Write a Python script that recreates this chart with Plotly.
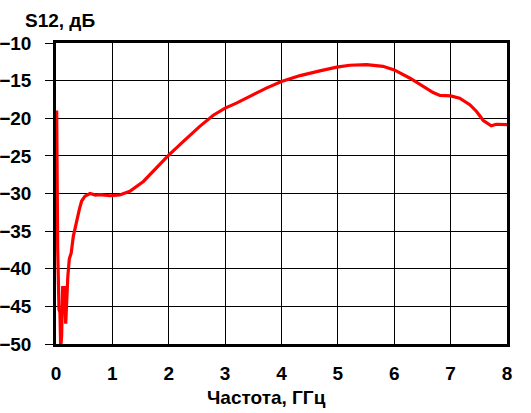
import plotly.graph_objects as go

freq_ghz = [0.012, 0.018, 0.03, 0.053, 0.07, 0.083, 0.10, 0.118, 0.148, 0.172, 0.19, 0.21,
            0.236, 0.27, 0.307, 0.355, 0.414, 0.455, 0.514, 0.603, 0.70, 0.78, 0.957, 1.13,
            1.31, 1.55, 1.785, 1.99, 2.26, 2.55, 2.79, 3.0, 3.2, 3.5, 3.73, 4.0, 4.33, 4.68,
            4.98, 5.21, 5.51, 5.8, 6.0, 6.28, 6.51, 6.69, 6.81, 7.0, 7.16, 7.34, 7.46, 7.58,
            7.72, 7.81, 8.0]
s12_db = [-18.96, -29.5, -37.4, -45.4, -45.8, -50.5, -48.9, -42.5, -42.5, -47.3, -42.6, -41.0,
          -38.7, -37.9, -35.7, -33.9, -32.1, -31.0, -30.35, -30.0, -30.2, -30.15, -30.3, -30.2,
          -29.7, -28.4, -26.6, -24.97, -23.07, -21.08, -19.6, -18.65, -17.99, -16.8, -16.0, -15.12, -14.33, -13.7,
          -13.2, -12.96, -12.87, -13.1, -13.58, -14.68, -15.7, -16.58, -16.97, -17.02, -17.33, -18.2, -19.1, -20.3,
          -21.0, -20.8, -20.86]

x_ticks = [0, 1, 2, 3, 4, 5, 6, 7, 8]
y_ticks = [-50, -45, -40, -35, -30, -25, -20, -15, -10]
y_label = "S12, дБ"
x_label = "Частота, ГГц"

FONT = "Liberation Sans"
fig = go.Figure()
fig.add_trace(go.Scatter(x=freq_ghz, y=s12_db, mode="lines",
                         line=dict(color="#FF0000", width=3.2), showlegend=False))

fig.update_layout(
    width=531, height=413,
    margin=dict(l=56, r=24, t=43, b=68.5, autoexpand=False),
    paper_bgcolor="white", plot_bgcolor="white",
    font=dict(family=FONT, size=19, color="black", weight="bold"),
    xaxis=dict(range=[0, 8], tickvals=x_ticks, showgrid=True, gridcolor="black", gridwidth=1.3,
               showline=True, linecolor="black", linewidth=2.5, mirror=True, zeroline=False,
               ticks="", ticklabelstandoff=10, layer="below traces", automargin=False,
               tickfont=dict(family=FONT, size=19, weight="bold")),
    yaxis=dict(range=[-50, -10], tickvals=y_ticks, showgrid=True, gridcolor="black", gridwidth=1.3,
               showline=True, linecolor="black", linewidth=2.5, mirror=True, zeroline=False,
               ticks="outside", ticklen=8, tickwidth=1.3, tickcolor="black",
               ticklabelstandoff=10, layer="below traces", automargin=False,
               tickfont=dict(family=FONT, size=19, weight="bold")),
    annotations=[
        dict(text=y_label, xref="paper", yref="paper", x=-0.073, y=1.076,
             xanchor="left", yanchor="middle", showarrow=False,
             font=dict(family=FONT, size=19, weight="bold")),
        dict(text=x_label, xref="paper", yref="paper", x=0.466, y=-0.177,
             xanchor="center", yanchor="middle", showarrow=False,
             font=dict(family=FONT, size=19, weight="bold")),
    ],
)
fig.write_html("out.html")
